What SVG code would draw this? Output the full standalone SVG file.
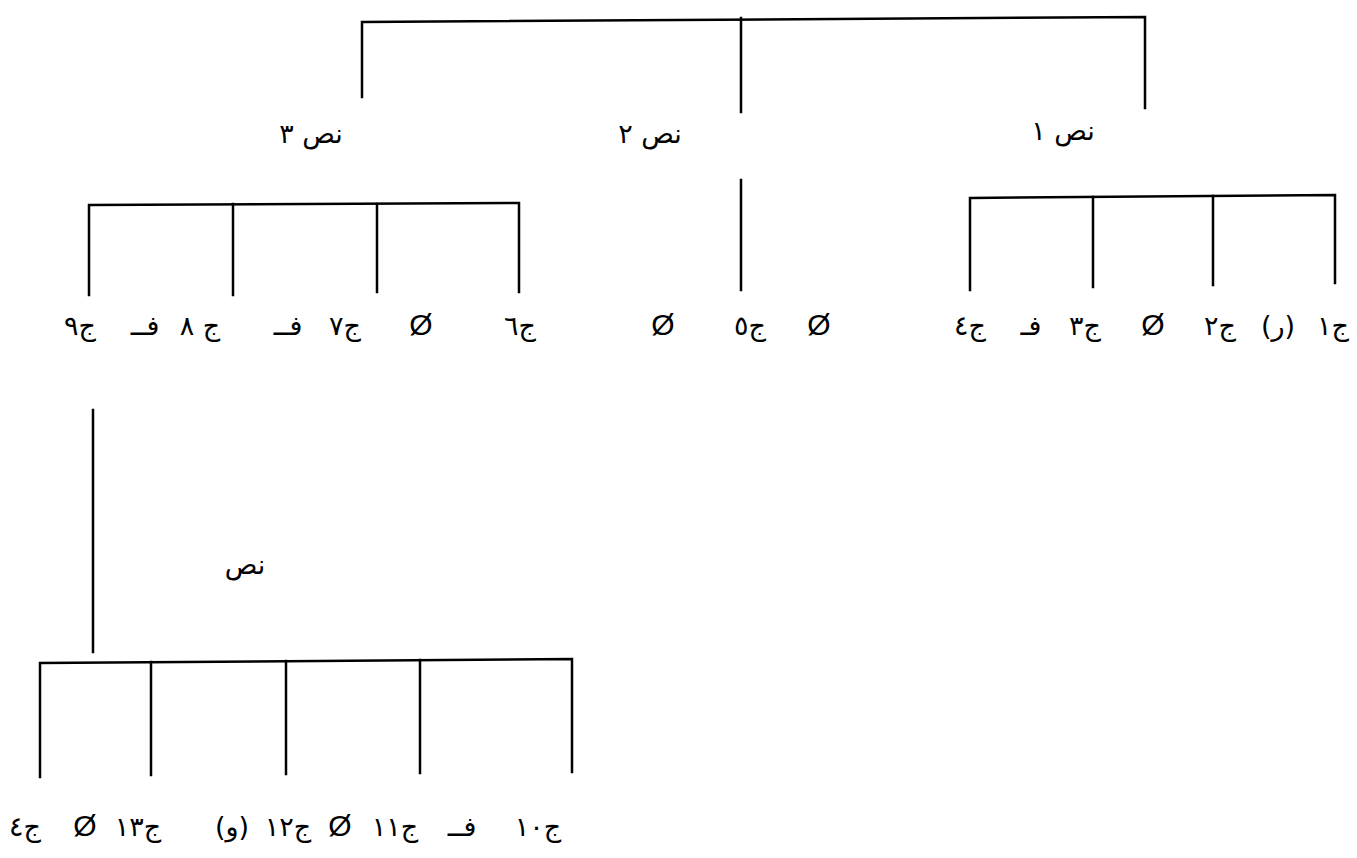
<svg xmlns="http://www.w3.org/2000/svg" width="1357" height="858" viewBox="0 0 1357 858">
  <style>
    .ln { stroke: #000; stroke-width: 2.5; fill: none; stroke-linecap: square; }
    .ar { font-family: "DejaVu Sans", "Noto Sans", sans-serif; font-size: 27px; fill: #000; text-anchor: middle; }
    .zr { font-family: "Liberation Sans", "DejaVu Sans", sans-serif; font-size: 30px; fill: #000; text-anchor: middle; }
  </style>
  <rect width="1357" height="858" fill="#fff"/>

  <!-- bracket lines -->
  <g id="connectors">
    <!-- root bracket over the three texts -->
    <path class="ln" d="M362,97 L362,22 L1145,17 L1145,108"/>
    <path class="ln" d="M741,18 L741,112"/>
    <!-- text 2 stem -->
    <path class="ln" d="M741,180 L741,290"/>
    <!-- text 3 bracket -->
    <path class="ln" d="M89,295 L89,205 L519,203 L519,292"/>
    <path class="ln" d="M233,204 L233,295"/>
    <path class="ln" d="M377,204 L377,292"/>
    <!-- text 1 bracket -->
    <path class="ln" d="M970,290 L970,198 L1335,195 L1335,283"/>
    <path class="ln" d="M1093,197 L1093,287"/>
    <path class="ln" d="M1213,196 L1213,285"/>
    <!-- sub-text stem from sentence 9 -->
    <path class="ln" d="M93,410 L93,652"/>
    <!-- sub-text bracket -->
    <path class="ln" d="M40,777 L40,663 L572,659 L572,772"/>
    <path class="ln" d="M151,662 L151,775"/>
    <path class="ln" d="M286,661 L286,774"/>
    <path class="ln" d="M420,660 L420,773"/>
  </g>

  <g id="text1">
    <text class="ar" x="1063" y="140">نص ١</text>
  </g>
  <g id="text2">
    <text class="ar" x="650" y="143">نص ٢</text>
  </g>
  <g id="text3">
    <text class="ar" x="311" y="143">نص ٣</text>
  </g>
  <g id="subtext">
    <text class="ar" x="245" y="574">نص</text>
  </g>

  <!-- sentences of text 1 -->
  <g id="row1">
    <text class="ar" x="1333" y="335">ج١</text>
    <text class="ar" x="1278" y="335">(ر)</text>
    <text class="ar" x="1220" y="335">ج٢</text>
    <text class="zr" x="1153" y="335">Ø</text>
    <text class="ar" x="1085" y="335">ج٣</text>
    <text class="ar" x="1031" y="335">فـ</text>
    <text class="ar" x="970" y="335">ج٤</text>
  </g>

  <!-- sentences of text 2 -->
  <g id="row2">
    <text class="zr" x="819" y="335">Ø</text>
    <text class="ar" x="750" y="335">ج٥</text>
    <text class="zr" x="663" y="335">Ø</text>
  </g>

  <!-- sentences of text 3 -->
  <g id="row3">
    <text class="ar" x="520" y="335">ج٦</text>
    <text class="zr" x="421" y="335">Ø</text>
    <text class="ar" x="345" y="335">ج٧</text>
    <text class="ar" x="288" y="335">فــ</text>
    <text class="ar" x="200" y="335">ج ٨</text>
    <text class="ar" x="145" y="335">فــ</text>
    <text class="ar" x="80" y="335">ج٩</text>
  </g>

  <!-- sentences of the sub-text -->
  <g id="row4">
    <text class="ar" x="538" y="836">ج١٠</text>
    <text class="ar" x="462" y="836">فــ</text>
    <text class="ar" x="395" y="836">ج١١</text>
    <text class="zr" x="340" y="836">Ø</text>
    <text class="ar" x="288" y="836">ج١٢</text>
    <text class="ar" x="232" y="836">(و)</text>
    <text class="ar" x="138" y="836">ج١٣</text>
    <text class="zr" x="85" y="836">Ø</text>
    <text class="ar" x="25" y="836">ج٤</text>
  </g>
</svg>
